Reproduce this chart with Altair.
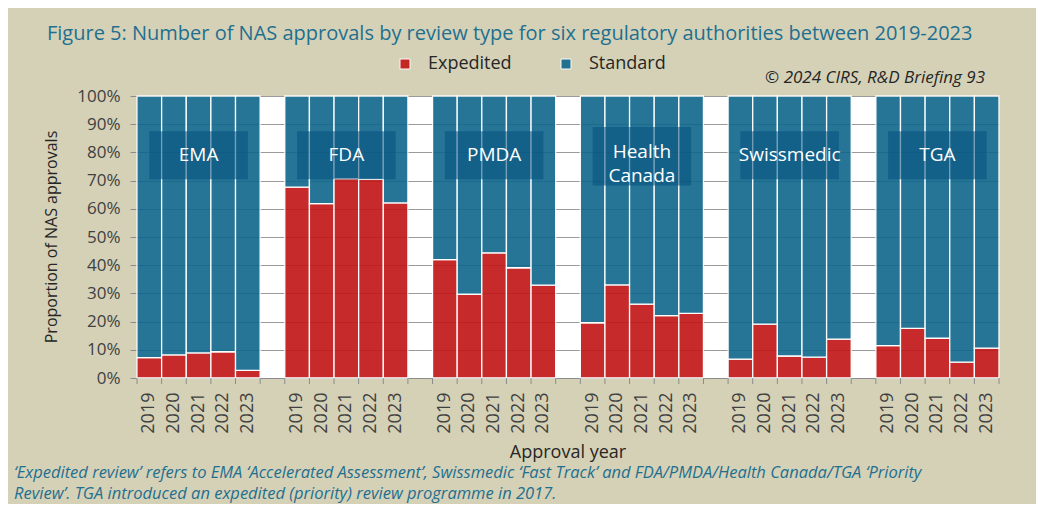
import altair as alt
import pandas as pd

# ---------------- data ----------------
agencies = ["EMA", "FDA", "PMDA", "Health Canada", "Swissmedic", "TGA"]
agency_labels = ["EMA", "FDA", "PMDA", "Health\nCanada", "Swissmedic", "TGA"]
years = ["2019", "2020", "2021", "2022", "2023"]

# share of NAS approvals via expedited review (%), 2019-2023
ema_expedited = [7.2, 8.2, 8.9, 9.3, 2.7]
fda_expedited = [67.7, 61.8, 70.7, 70.4, 62.1]
pmda_expedited = [42.0, 29.7, 44.4, 39.1, 32.9]
hc_expedited = [19.6, 33.0, 26.2, 22.1, 22.9]
swissmedic_expedited = [6.7, 19.1, 7.8, 7.4, 13.8]
tga_expedited = [11.5, 17.6, 14.1, 5.6, 10.6]

review_types = ["Expedited", "Standard"]
colors = ["#c21414", "#0f678c"]

title_text = ("Figure 5: Number of NAS approvals by review type for six "
              "regulatory authorities between 2019-2023")
x_title = "Approval year"
y_title = "Proportion of NAS approvals"
copyright_text = "\u00a9 2024 CIRS, R&D Briefing 93"
footer_text = ("\u2018Expedited review\u2019 refers to EMA \u2018Accelerated Assessment\u2019, "
               "Swissmedic \u2018Fast Track\u2019 and FDA/PMDA/Health Canada/TGA \u2018Priority\n"
               "Review\u2019. TGA introduced an expedited (priority) review programme in 2017.")

series = [ema_expedited, fda_expedited, pmda_expedited, hc_expedited,
          swissmedic_expedited, tga_expedited]

# ---------------- tables ----------------
x_order = []
rows = []
box_rows = []
for i, (ag, vals) in enumerate(zip(agencies, series)):
    for yr, v in zip(years, vals):
        key = f"{ag}|{yr}"
        x_order.append(key)
        rows.append(dict(key=key, agency=ag, year=yr, type="Expedited",
                         value=v / 100.0, ord=0))
        rows.append(dict(key=key, agency=ag, year=yr, type="Standard",
                         value=1 - v / 100.0, ord=1))
    if i < len(agencies) - 1:
        x_order.append(f"gap{i}")
    box_rows.append(dict(key=f"{ag}|{years[0]}", key2=f"{ag}|{years[-1]}",
                         mid=f"{ag}|{years[2]}", label=agency_labels[i],
                         lines=agency_labels[i].count("\n") + 1))

df = pd.DataFrame(rows)
boxes = pd.DataFrame(box_rows)
tick_keys = pd.DataFrame({"key": x_order})
end_key = pd.DataFrame({"key": [x_order[-1]]})

FONT = "Open Sans"
TEAL = "#1f6f8f"
DARK = "#262626"
GRAY = "#8c8c8c"

xscale = alt.Scale(domain=x_order, paddingInner=0, paddingOuter=0)
yscale = alt.Scale(domain=[0, 1], nice=False)

bars = alt.Chart(df).mark_bar(
    stroke="#ffffff", strokeWidth=1.3, opacity=0.9
).encode(
    x=alt.X("key:N", scale=xscale, axis=alt.Axis(
        title=None,
        labelExpr="indexof(datum.value, '|') > 0 ? split(datum.value, '|')[1] : ''",
        labelAngle=270, labelFontSize=18, labelColor="#404040",
        labelPadding=14, ticks=False, domainColor=GRAY,
    )),
    y=alt.Y("value:Q", scale=yscale, stack="zero", axis=alt.Axis(
        tickCount=10, format=".0%", title=None,
        labelFontSize=17, labelColor="#404040", labelPadding=10,
        tickSize=7, tickColor=GRAY, domainColor=GRAY,
        grid=True, gridColor="#9a9a9a",
    )),
    color=alt.Color("type:N", scale=alt.Scale(domain=review_types, range=colors),
                    legend=alt.Legend(
                        orient="none", legendX=259, legendY=-41,
                        direction="horizontal", title=None,
                        symbolType="square", symbolSize=100,
                        symbolStrokeColor="white", symbolStrokeWidth=1,
                        labelFontSize=18, labelColor=DARK, labelOffset=14,
                        columnPadding=45, padding=0,
                    )),
    order=alt.Order("ord:Q"),
)

# category-boundary ticks under the x axis
tick_layer = alt.Chart(tick_keys).mark_rule(color=GRAY, strokeWidth=1).encode(
    x=alt.X("key:N", scale=xscale, bandPosition=0, axis=None),
    y=alt.value(282), y2=alt.value(288),
)
end_tick_layer = alt.Chart(end_key).mark_rule(color=GRAY, strokeWidth=1).encode(
    x=alt.X("key:N", scale=xscale, bandPosition=1, axis=None),
    y=alt.value(282), y2=alt.value(288),
)

box_layer = alt.Chart(boxes).transform_calculate(
    value="datum.lines > 1 ? 0.683 : 0.705",
    value2="datum.lines > 1 ? 0.89 : 0.875",
).mark_rect(color="#044f7c", opacity=0.55).encode(
    x=alt.X("key:N", scale=xscale, bandPosition=0.5, axis=None),
    x2=alt.X2("key2:N", bandPosition=0.5),
    y=alt.Y("value:Q", scale=yscale, axis=None),
    y2="value2:Q",
)

label_layer = alt.Chart(boxes).transform_calculate(
    key="datum.mid",
    value="datum.lines > 1 ? 0.80 : 0.79",
).mark_text(
    color="white", font=FONT, fontSize=19, lineBreak="\n", lineHeight=24,
    baseline="middle", align="center",
).encode(
    x=alt.X("key:N", scale=xscale, bandPosition=0.5, axis=None),
    y=alt.Y("value:Q", scale=yscale, axis=None),
    text="label:N",
)

def note(text, x, y, **kw):
    return alt.Chart(pd.DataFrame({"t": [text]})).mark_text(
        font=FONT, baseline="middle", **kw
    ).encode(x=alt.value(x), y=alt.value(y), text="t:N")

title_layer = note(title_text, -90, -62, fontSize=20, color=TEAL, align="left")
copy_layer = note(copyright_text, 848, -18, fontSize=17, fontStyle="italic",
                  color=DARK, align="right")
xtitle_layer = note(x_title, 431, 357, fontSize=18, color=DARK, align="center")
ytitle_layer = note(y_title, -85, 141, fontSize=16, color=DARK, align="center",
                    angle=270)
footer_layer = note(footer_text, -123, 377, fontSize=16.5, fontStyle="italic",
                    color=TEAL, align="left", lineBreak="\n", lineHeight=20.5)

chart = alt.layer(
    bars, tick_layer, end_tick_layer, box_layer, label_layer, title_layer,
    copy_layer, xtitle_layer, ytitle_layer, footer_layer
).resolve_axis(
    x="independent", y="independent"
).properties(
    width=862, height=282,
    autosize=alt.AutoSizeParams(type="none"),
    padding={"left": 129, "top": 88, "right": 37, "bottom": 126},
    background="#d5d1b7",
).configure_view(
    stroke=None, fill="white",
).configure_axis(
    labelFont=FONT,
).configure_legend(
    labelFont=FONT,
)

chart.save("out.html", embed_options={"renderer": "svg", "actions": False})
